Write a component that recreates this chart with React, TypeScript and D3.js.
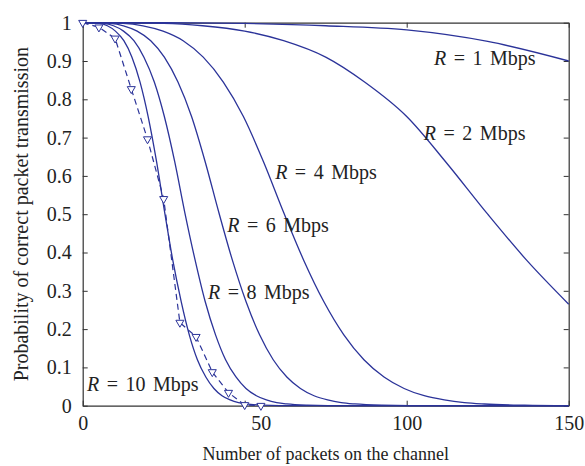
import React, { useEffect, useRef } from 'react';
import * as d3 from 'd3';

// curves (n = packets on channel, p = probability)
const r1N = [0, 25, 50, 75, 100, 125, 150];
const r1P = [1, 1, 0.998, 0.992, 0.981, 0.951, 0.9];

const r2N = [0, 25, 37, 50, 62, 75, 87, 100, 112, 125, 137, 150];
const r2P = [1, 0.998, 0.992, 0.978, 0.953, 0.91, 0.845, 0.755, 0.637, 0.5, 0.38, 0.265];

const r4N = [0, 12.4, 18.6, 24.8, 31, 37.2, 43.4, 49.6, 55.8, 62, 68.2, 74.4, 80.6, 86.8, 93, 99.2, 105.4, 111.6, 117.8, 124, 136.4, 150];
const r4P = [1, 0.998, 0.992, 0.978, 0.953, 0.91, 0.845, 0.755, 0.637, 0.505, 0.38, 0.272, 0.185, 0.12, 0.075, 0.045, 0.026, 0.015, 0.008, 0.0045, 0.0013, 0];

const r6N = [0, 8.4, 12.6, 16.8, 21, 25.2, 29.4, 33.6, 37.8, 42, 46.2, 50.4, 54.6, 58.8, 63, 67.2, 71.4, 75.6, 79.8, 84, 92.4, 101, 150];
const r6P = [1, 0.998, 0.992, 0.978, 0.953, 0.91, 0.845, 0.755, 0.637, 0.505, 0.38, 0.272, 0.185, 0.12, 0.075, 0.045, 0.026, 0.015, 0.008, 0.0045, 0.0013, 0.0003, 0];

const r8N = [0, 6.3, 9.5, 12.6, 15.8, 18.9, 22.1, 25.2, 28.4, 31.5, 34.7, 37.8, 41, 44.1, 47.3, 50.4, 53.6, 56.7, 59.9, 63, 69.3, 75.6, 150];
const r8P = [1, 0.998, 0.992, 0.978, 0.953, 0.91, 0.845, 0.755, 0.637, 0.505, 0.38, 0.272, 0.185, 0.12, 0.075, 0.045, 0.026, 0.015, 0.008, 0.0045, 0.0013, 0.0003, 0];

const r10N = [0, 5.1, 7.6, 10.1, 12.7, 15.2, 17.7, 20.2, 22.8, 25.3, 27.8, 30.4, 32.9, 35.4, 38, 40.5, 43, 45.5, 48.1, 50.6, 55.7, 60.7, 150];
const r10P = [1, 0.998, 0.992, 0.978, 0.953, 0.91, 0.845, 0.755, 0.637, 0.505, 0.38, 0.272, 0.185, 0.12, 0.075, 0.045, 0.026, 0.015, 0.008, 0.0045, 0.0013, 0.0003, 0];

// dashed curve with triangle markers
const dashN = [0, 5, 10, 15, 20, 25, 30, 35, 40, 45, 50, 55];
const dashP = [1, 0.988, 0.959, 0.827, 0.696, 0.54, 0.217, 0.18, 0.088, 0.034, 0.002, 0];

const rates = ['1', '2', '4', '6', '8', '10'];
// label anchors in data units (left edge, baseline)
const labelN = [108.4, 105.3, 59.4, 44.6, 38.7, 1.3];
const labelP = [0.89, 0.694, 0.592, 0.453, 0.278, 0.038];

const xTicks = [0, 50, 100, 150];
const yTicks = [0, 0.1, 0.2, 0.3, 0.4, 0.5, 0.6, 0.7, 0.8, 0.9, 1];

const COLOR = '#2b3399';
const FONT = '"Liberation Serif", "DejaVu Serif", serif';

export default function App() {
    const svgRef = useRef<SVGSVGElement>(null);

    useEffect(() => {
        const width = 585;
        const height = 466;
        const left = 82.7, right = 568.7, top = 22.7, bottom = 405.7;

        const svg = d3.select(svgRef.current);
        svg.selectAll('*').remove();
        svg.attr('width', width).attr('height', height);

        const x = d3.scaleLinear().domain([0, 150]).range([left, right]);
        const y = d3.scaleLinear().domain([0, 1]).range([bottom, top]);

        const frame = '#333';

        const styleAxis = (g) => {
            g.selectAll('path').attr('stroke', frame).attr('stroke-width', 1.2);
            g.selectAll('line').attr('stroke', frame).attr('stroke-width', 1);
            g.selectAll('text')
                .attr('font-family', FONT)
                .attr('font-size', 20)
                .attr('fill', '#222');
        };

        // bottom axis
        const gx = svg.append('g')
            .attr('transform', `translate(0,${bottom})`)
            .call(d3.axisBottom(x).tickValues(xTicks).tickSize(-5).tickSizeOuter(0).tickPadding(10).tickFormat(d3.format('d')));
        styleAxis(gx);
        // the "50" label sits shifted right in the original
        gx.selectAll('.tick text').filter((d) => d === 50).attr('dx', 16);

        // top axis
        const gt = svg.append('g')
            .attr('transform', `translate(0,${top})`)
            .call(d3.axisTop(x).tickValues(xTicks).tickSize(-5).tickSizeOuter(0).tickFormat(() => ''));
        styleAxis(gt);

        // left axis
        const gy = svg.append('g')
            .attr('transform', `translate(${left},0)`)
            .call(d3.axisLeft(y).tickValues(yTicks).tickSize(-5).tickSizeOuter(0).tickPadding(11)
                .tickFormat((d) => (d === 0 || d === 1 ? String(d) : d3.format('.1f')(d))));
        styleAxis(gy);

        // right axis
        const gr = svg.append('g')
            .attr('transform', `translate(${right},0)`)
            .call(d3.axisRight(y).tickValues(yTicks).tickSize(-5).tickSizeOuter(0).tickFormat(() => ''));
        styleAxis(gr);

        const line = d3.line<[number, number]>()
            .x((d) => x(d[0]))
            .y((d) => y(d[1]))
            .curve(d3.curveMonotoneX);

        const curves = [
            [r1N, r1P], [r2N, r2P], [r4N, r4P], [r6N, r6P], [r8N, r8P], [r10N, r10P]
        ];

        svg.append('g')
            .selectAll('path')
            .data(curves)
            .enter().append('path')
            .attr('d', (c) => line(c[0].map((n, i) => [n, c[1][i]])))
            .attr('fill', 'none')
            .attr('stroke', COLOR)
            .attr('stroke-width', 1.3);

        const dashPts = dashN.map((n, i) => [n, dashP[i]] as [number, number]);

        svg.append('path')
            .attr('d', d3.line<[number, number]>().x((d) => x(d[0])).y((d) => y(d[1]))(dashPts))
            .attr('fill', 'none')
            .attr('stroke', COLOR)
            .attr('stroke-width', 1.2)
            .attr('stroke-dasharray', '6,4');

        const tri = d3.symbol().type(d3.symbolTriangle).size(28);
        svg.append('g')
            .selectAll('path')
            .data(dashPts)
            .enter().append('path')
            .attr('d', tri())
            .attr('transform', (d) => `translate(${x(d[0])},${y(d[1])}) rotate(180)`)
            .attr('fill', 'white')
            .attr('stroke', COLOR)
            .attr('stroke-width', 1);

        // curve labels
        const labels = svg.append('g')
            .attr('font-family', FONT)
            .attr('font-size', 20)
            .attr('fill', '#222');
        rates.forEach((r, i) => {
            const t = labels.append('text')
                .attr('x', x(labelN[i]))
                .attr('y', y(labelP[i]))
                .attr('word-spacing', 2.5);
            t.append('tspan').attr('font-style', 'italic').text('R');
            t.append('tspan').text(` = ${r} Mbps`);
        });

        // axis titles
        svg.append('text')
            .attr('x', (left + right) / 2)
            .attr('y', 460)
            .attr('text-anchor', 'middle')
            .attr('font-family', FONT)
            .attr('font-size', 18)
            .attr('fill', '#222')
            .text('Number of packets on the channel');

        svg.append('text')
            .attr('transform', `translate(28,${(top + bottom) / 2}) rotate(-90)`)
            .attr('text-anchor', 'middle')
            .attr('font-family', FONT)
            .attr('font-size', 20)
            .attr('fill', '#222')
            .text('Probability of correct packet transmission');
    }, []);

    return (
        <svg ref={svgRef} style={{ position: 'absolute', left: 0, top: 0 }}></svg>
    );
}
